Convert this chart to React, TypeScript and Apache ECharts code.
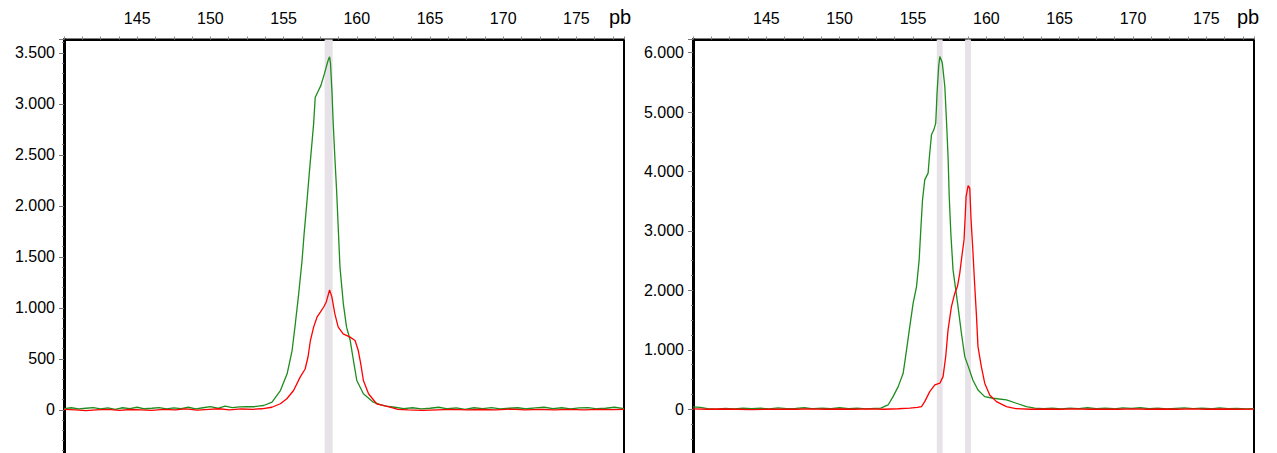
import React, { useEffect, useRef } from "react";
import * as echarts from "echarts";

// ---- data (bp, RFU) ----
const leftGreen: [number, number][] = [
  [140.0, 12], [140.5, 20], [141.0, 8], [141.5, 15], [142.0, 22], [142.5, 10], [143.0, 18], [143.5, 5],
  [144.0, 20], [144.5, 12], [145.0, 25], [145.5, 10], [146.0, 15], [146.5, 22], [147.0, 8], [147.5, 18],
  [148.0, 12], [148.5, 25], [149.0, 10], [149.5, 20], [150.0, 30], [150.5, 15], [151.0, 35], [151.5, 22],
  [152.0, 28], [152.5, 32], [153.0, 30], [153.4, 38], [153.64, 42], [154.21, 75], [154.78, 189],
  [155.24, 353], [155.58, 581], [155.8, 843], [156.03, 1137], [156.26, 1463], [156.4, 1725], [156.6, 2051],
  [156.75, 2313], [156.89, 2541], [157.05, 2803], [157.16, 3064], [157.35, 3120], [157.55, 3180],
  [157.8, 3300], [157.95, 3380], [158.05, 3430], [158.14, 3460], [158.2, 3400], [158.3, 3130],
  [158.39, 2803], [158.5, 2476], [158.62, 2149], [158.73, 1790], [158.85, 1398], [159.08, 1039],
  [159.3, 810], [159.55, 679], [159.77, 483], [160.0, 287], [160.45, 157], [161.13, 75], [161.6, 50],
  [162.0, 35], [162.6, 25], [163.2, 12], [163.8, 20], [164.4, 8], [165.0, 15], [165.6, 25], [166.2, 10],
  [166.8, 18], [167.4, 5], [168.0, 20], [168.6, 12], [169.2, 22], [169.8, 8], [170.4, 15], [171.0, 20],
  [171.6, 10], [172.2, 18], [172.8, 25], [173.4, 12], [174.0, 20], [174.6, 8], [175.2, 18], [175.8, 22],
  [176.4, 10], [177.0, 15], [177.6, 25], [178.25, 12],
];

const leftRed: [number, number][] = [
  [140.0, 5], [140.8, 0], [141.5, -8], [142.2, 0], [143.0, 5], [143.8, -5], [144.5, 3], [145.3, 0],
  [146.0, -6], [146.8, 4], [147.6, 0], [148.3, 8], [149.1, -4], [149.9, 5], [150.6, 10], [151.3, 0],
  [152.1, 8], [152.9, 5], [153.5, 10], [154.2, 25], [154.78, 59], [155.22, 108], [155.68, 189],
  [156.13, 320], [156.47, 400], [156.67, 520], [156.83, 679], [157.05, 810], [157.28, 908], [157.51, 957],
  [157.75, 1010], [157.92, 1060], [158.14, 1176], [158.3, 1104], [158.5, 941], [158.73, 810],
  [159.07, 745], [159.54, 712], [159.88, 679], [160.1, 581], [160.27, 451], [160.45, 287], [160.8, 157],
  [161.35, 59], [162.27, 25], [162.8, 5], [163.5, 0], [164.5, -5], [165.5, 0], [166.5, 5], [167.5, 0],
  [168.5, 3], [169.5, 0], [170.5, 6], [171.5, 0], [172.5, 4], [173.5, 0], [174.5, 5], [175.5, 0],
  [176.5, 4], [177.5, 2], [178.25, 5],
];

const rightGreen: [number, number][] = [
  [140.0, 40], [140.5, 30], [141.0, 10], [141.6, 0], [142.2, 15], [142.8, 5], [143.4, 20], [144.0, 8],
  [144.6, 18], [145.2, 5], [145.8, 22], [146.4, 10], [147.0, 15], [147.6, 25], [148.2, 8], [148.8, 20],
  [149.4, 12], [150.0, 25], [150.6, 10], [151.2, 20], [151.8, 5], [152.4, 15], [152.8, 20], [153.3, 72],
  [153.64, 212], [153.99, 381], [154.33, 606], [154.56, 998], [154.78, 1391], [155.01, 1785],
  [155.24, 2064], [155.42, 2514], [155.53, 3019], [155.65, 3524], [155.8, 3860], [156.03, 3973],
  [156.12, 4253], [156.26, 4618], [156.42, 4702], [156.55, 4815], [156.64, 5320], [156.75, 5768],
  [156.83, 5936], [156.92, 5880], [157.0, 5825], [157.17, 5431], [157.28, 4870], [157.39, 4253],
  [157.47, 3579], [157.58, 2963], [157.73, 2345], [157.9, 2037], [158.07, 1727], [158.3, 1279],
  [158.53, 886], [158.85, 662], [159.08, 493], [159.43, 325], [159.89, 212], [160.46, 185],
  [161.37, 157], [162.05, 101], [162.73, 44], [163.3, 20], [163.9, 8], [164.5, 18], [165.1, 5],
  [165.7, 20], [166.3, 10], [166.9, 25], [167.5, 12], [168.1, 20], [168.7, 8], [169.3, 22], [169.9, 15],
  [170.5, 25], [171.1, 10], [171.7, 18], [172.3, 5], [172.9, 15], [173.5, 22], [174.1, 10], [174.7, 20],
  [175.3, 8], [175.9, 22], [176.5, 10], [177.1, 15], [177.7, 5], [178.25, 10],
];

const rightRed: [number, number][] = [
  [140.0, 5], [141.0, 0], [142.0, 4], [143.0, 0], [144.0, -5], [145.0, 0], [146.0, 3], [147.0, 0],
  [148.0, 5], [149.0, 0], [150.0, 4], [151.0, 0], [152.0, 5], [153.0, 0], [154.0, 8], [154.78, 20],
  [155.3, 30], [155.58, 44], [155.8, 128], [156.14, 296], [156.49, 409], [156.83, 438], [157.05, 549],
  [157.23, 886], [157.39, 1335], [157.62, 1727], [157.85, 1953], [158.03, 2064], [158.19, 2290],
  [158.3, 2514], [158.48, 2850], [158.57, 3300], [158.62, 3579], [158.76, 3764], [158.87, 3720],
  [158.96, 3187], [159.08, 2682], [159.2, 2121], [159.33, 1559], [159.43, 1054], [159.66, 717],
  [159.89, 438], [160.23, 241], [160.69, 128], [161.37, 44], [162.0, 10], [163.0, 0], [164.0, 4],
  [165.0, 0], [166.0, 5], [167.0, 0], [168.0, 3], [169.0, 0], [170.0, 5], [171.0, 0], [172.0, 4],
  [173.0, 0], [174.0, 6], [175.0, 0], [176.0, 4], [177.0, 0], [178.25, 3],
];

const leftBands: [number, number][] = [[157.8, 158.35]];
const rightBands: [number, number][] = [[156.62, 157.02], [158.55, 158.95]];

const xMin = 140;
const xMax = 178.25;
const xInterval = 5;
const leftYMin = -1000;
const leftYMax = 3630;
const leftYInterval = 500;
const rightYMin = -2000;
const rightYMax = 6222;
const rightYInterval = 1000;

const GREEN = "#1f8c1f";
const RED = "#ff0000";
const BAND = "#e6e2e8";
const FONT = "'Liberation Sans', Arial, sans-serif";

function fmtThousands(v: number): string {
  return String(v).replace(/\B(?=(\d{3})+(?!\d))/g, ".");
}

export default function App() {
  const ref = useRef<HTMLDivElement>(null);

  useEffect(() => {
    if (!ref.current) return;
    const chart = echarts.init(ref.current, undefined, { renderer: "svg" });

    const xAxisCfg = (gridIndex: number) => ({
      type: "value",
      gridIndex,
      position: "top",
      min: xMin,
      max: xMax,
      interval: xInterval,
      axisLine: { show: true, onZero: false, lineStyle: { color: "#000", width: 2 } },
      axisTick: { show: true, length: 3, lineStyle: { color: "#888", width: 1 } },
      minorTick: { show: true, splitNumber: 4, length: 3, lineStyle: { color: "#888", width: 1 } },
      splitLine: { show: false },
      axisLabel: {
        margin: 13,
        fontSize: 16,
        color: "#000",
        fontFamily: FONT,
        formatter: (v: number) => (v % 5 === 0 && v > xMin && v < xMax ? String(v) : ""),
      },
    });

    const yAxisCfg = (gridIndex: number, min: number, max: number, interval: number, minor: number) => ({
      type: "value",
      gridIndex,
      min,
      max,
      interval,
      axisLine: { show: true, onZero: false, lineStyle: { color: "#000", width: 3 } },
      axisTick: { show: true, length: 5, lineStyle: { color: "#777", width: 1 } },
      minorTick: { show: true, splitNumber: minor, length: 2, lineStyle: { color: "#777", width: 1 } },
      splitLine: { show: false },
      axisLabel: {
        margin: 9,
        fontSize: 16,
        color: "#000",
        fontFamily: FONT,
        formatter: (v: number) => (v >= 0 && v % interval === 0 ? fmtThousands(v) : ""),
      },
    });

    const bandSeries = (idx: number, bands: [number, number][]) => ({
      type: "line",
      xAxisIndex: idx,
      yAxisIndex: idx,
      data: [],
      z: 0,
      silent: true,
      markArea: {
        silent: true,
        itemStyle: { color: BAND },
        data: bands.map((b) => [{ xAxis: b[0] }, { xAxis: b[1] }]),
      },
    });

    const trace = (idx: number, data: [number, number][], color: string) => ({
      type: "line",
      xAxisIndex: idx,
      yAxisIndex: idx,
      data,
      showSymbol: false,
      symbol: "none",
      z: 5,
      clip: true,
      lineStyle: { color, width: 1.3 },
    });

    chart.setOption({
      animation: false,
      backgroundColor: "#fff",
      grid: [
        { left: 64, top: 39.5, width: 560, height: 472.3, show: true, borderColor: "#000", borderWidth: 2 },
        { left: 693, top: 39.5, width: 561, height: 488.6, show: true, borderColor: "#000", borderWidth: 2 },
      ],
      xAxis: [xAxisCfg(0), xAxisCfg(1)],
      yAxis: [
        yAxisCfg(0, leftYMin, leftYMax, leftYInterval, 5),
        yAxisCfg(1, rightYMin, rightYMax, rightYInterval, 4),
      ],
      graphic: [
        { type: "text", left: 609, top: 7, style: { text: "pb", fontSize: 20, fill: "#000", fontFamily: FONT } },
        { type: "text", left: 1237, top: 7, style: { text: "pb", fontSize: 20, fill: "#000", fontFamily: FONT } },
      ],
      series: [
        bandSeries(0, leftBands),
        bandSeries(1, rightBands),
        trace(0, leftGreen, GREEN),
        trace(0, leftRed, RED),
        trace(1, rightGreen, GREEN),
        trace(1, rightRed, RED),
      ],
    });

    return () => chart.dispose();
  }, []);

  return (
    <div style={{ position: "fixed", left: 0, top: 0, width: 1277, height: 453, overflow: "hidden", background: "#fff" }}>
      <div ref={ref} style={{ width: 1277, height: 540 }} />
    </div>
  );
}
